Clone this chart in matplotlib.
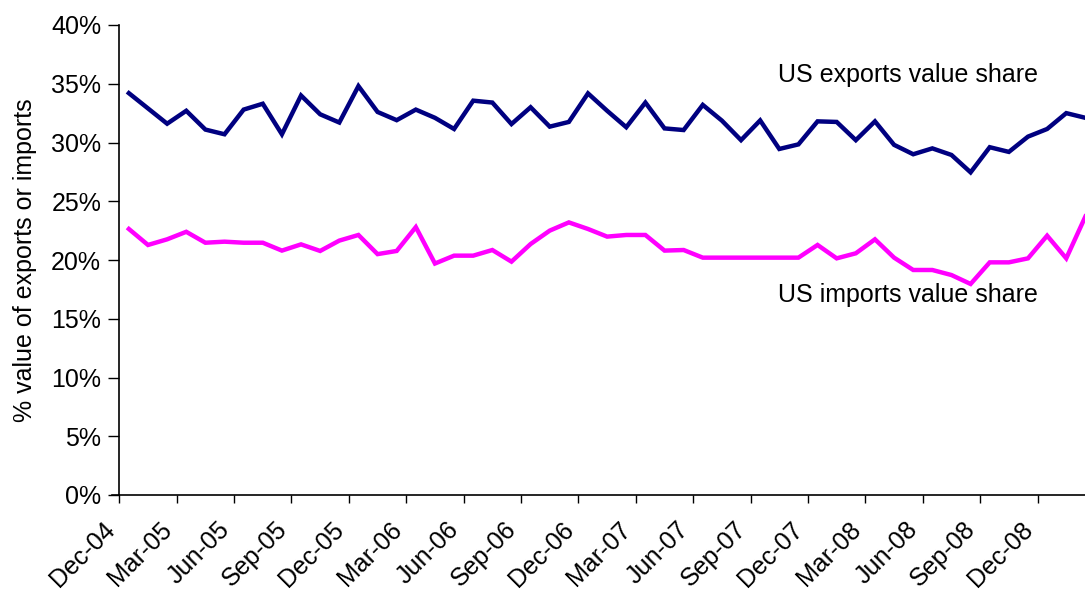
import matplotlib
matplotlib.use("Agg")
import matplotlib.pyplot as plt
from matplotlib.ticker import FuncFormatter, FixedLocator

plt.rcParams['font.family'] = ['Liberation Sans', 'DejaVu Sans']

months = ["Dec-04", "Jan-05", "Feb-05", "Mar-05", "Apr-05", "May-05", "Jun-05", "Jul-05",
          "Aug-05", "Sep-05", "Oct-05", "Nov-05", "Dec-05", "Jan-06", "Feb-06", "Mar-06",
          "Apr-06", "May-06", "Jun-06", "Jul-06", "Aug-06", "Sep-06", "Oct-06", "Nov-06",
          "Dec-06", "Jan-07", "Feb-07", "Mar-07", "Apr-07", "May-07", "Jun-07", "Jul-07",
          "Aug-07", "Sep-07", "Oct-07", "Nov-07", "Dec-07", "Jan-08", "Feb-08", "Mar-08",
          "Apr-08", "May-08", "Jun-08", "Jul-08", "Aug-08", "Sep-08", "Oct-08", "Nov-08",
          "Dec-08", "Jan-09", "Feb-09"]

exports_share = [34.2, 32.9, 31.6, 32.7, 31.1, 30.7, 32.8, 33.3, 30.7, 34.0,
                 32.4, 31.7, 34.8, 32.6, 31.9, 32.8, 32.1, 31.15, 33.56, 33.4,
                 31.57, 33.0, 31.35, 31.75, 34.18, 32.7, 31.3, 33.4, 31.2, 31.06,
                 33.2, 31.86, 30.2, 31.88, 29.45, 29.84, 31.8, 31.75, 30.2, 31.8,
                 29.8, 29.0, 29.5, 28.94, 27.46, 29.6, 29.2, 30.5, 31.15, 32.5, 32.1]

imports_share = [22.64, 21.28, 21.76, 22.4, 21.47, 21.56, 21.47, 21.47, 20.8, 21.33,
                 20.77, 21.65, 22.13, 20.5, 20.77, 22.8, 19.7, 20.37, 20.37, 20.85,
                 19.86, 21.36, 22.5, 23.2, 22.64, 21.99, 22.13, 22.13, 20.8, 20.85,
                 20.2, 20.2, 20.2, 20.2, 20.2, 20.2, 21.28, 20.14, 20.57, 21.76,
                 20.2, 19.15, 19.15, 18.72, 17.96, 19.8, 19.8, 20.14, 22.07, 20.14, 23.7]

tick_labels = months[0::3]
yticks = [0, 5, 10, 15, 20, 25, 30, 35, 40]

fig = plt.figure(figsize=(10.85, 5.9), dpi=100)
ax = fig.add_axes([119.3 / 1085, 1 - 495 / 590, (1085 - 119.3) / 1085, 470 / 590])

x = [i + 0.5 for i in range(len(months))]
ax.plot(x, exports_share, color='#000080', lw=3.2, solid_joinstyle='miter')
ax.plot(x, imports_share, color='#FF00FF', lw=3.2, solid_joinstyle='miter')

ax.set_xlim(0, 50.48)
ax.set_ylim(0, 40)
ax.xaxis.set_major_locator(FixedLocator(list(range(0, len(months), 3))))
ax.set_xticklabels(tick_labels, rotation=45, ha='right', va='top', fontsize=18)
ax.set_yticks(yticks)
ax.yaxis.set_major_formatter(FuncFormatter(lambda v, p: f"{v:.0f}%"))
ax.tick_params(axis='y', labelsize=18, direction='out', length=8, width=1, pad=5)
ax.tick_params(axis='x', direction='out', length=6, width=1, pad=10)

for s in ['top', 'right']:
    ax.spines[s].set_visible(False)
for s in ['left', 'bottom']:
    ax.spines[s].set_linewidth(1.2)
    ax.spines[s].set_color('black')

# x-axis line continues a little to the left of the value axis
ax.plot([-0.0075, 0], [0, 0], transform=ax.transAxes, color='black', lw=1.2,
        clip_on=False)

ax.set_ylabel('% value of exports or imports', fontsize=18, labelpad=10)

ax.text(34.43, 35.74, 'US exports value share', fontsize=18, ha='left', va='center')
ax.text(34.43, 17.02, 'US imports value share', fontsize=18, ha='left', va='center')

fig.savefig('out.png', dpi=100)
